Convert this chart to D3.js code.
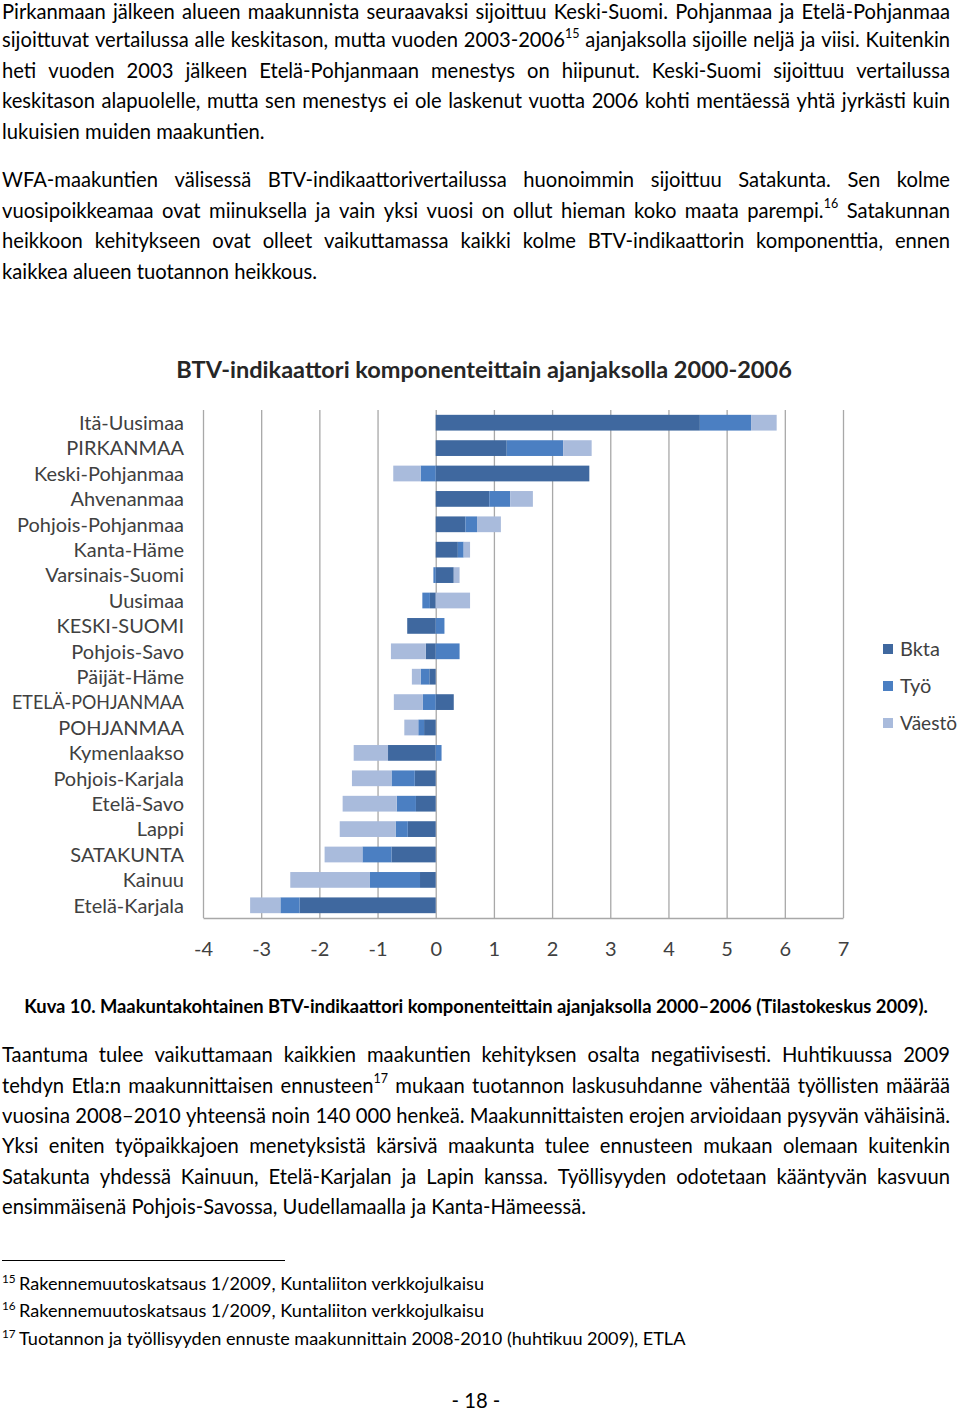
<!DOCTYPE html>
<html><head><meta charset="utf-8">
<script src="https://cdn.jsdelivr.net/npm/d3@7"></script>
<style>body{margin:0;background:#fff} svg{display:block}</style>
</head><body>
<svg id="page" width="960" height="1414"></svg>
<script>
// ---------- DATA ----------
const categories = ["Itä-Uusimaa","PIRKANMAA","Keski-Pohjanmaa","Ahvenanmaa","Pohjois-Pohjanmaa","Kanta-Häme","Varsinais-Suomi","Uusimaa","KESKI-SUOMI","Pohjois-Savo","Päijät-Häme","ETELÄ-POHJANMAA","POHJANMAA","Kymenlaakso","Pohjois-Karjala","Etelä-Savo","Lappi","SATAKUNTA","Kainuu","Etelä-Karjala"];
const bkta   = [4.54, 1.22, 2.64, 0.92, 0.51, 0.38, 0.31, -0.10, -0.49, -0.17, -0.11, 0.31, -0.20, -0.82, -0.36, -0.34, -0.48, -0.76, -0.27, -2.34];
const tyo    = [0.88, 0.97, -0.26, 0.36, 0.20, 0.10, -0.04, -0.13, 0.15, 0.41, -0.15, -0.22, -0.10, 0.10, -0.40, -0.33, -0.21, -0.50, -0.86, -0.33];
const vaesto = [0.44, 0.49, -0.47, 0.39, 0.41, 0.11, 0.10, 0.59, 0.00, -0.60, -0.15, -0.50, -0.24, -0.59, -0.68, -0.93, -0.96, -0.65, -1.37, -0.52];
const seriesNames = ["Bkta","Työ","Väestö"];
const xTicks = [-4,-3,-2,-1,0,1,2,3,4,5,6,7];
const chartTitle = "BTV-indikaattori komponenteittain ajanjaksolla 2000-2006";

const para1 = [
 "Pirkanmaan jälkeen alueen maakunnista seuraavaksi sijoittuu Keski-Suomi. Pohjanmaa ja Etelä-Pohjanmaa",
 "sijoittuvat vertailussa alle keskitason, mutta vuoden 2003-2006^15 ajanjaksolla sijoille neljä ja viisi. Kuitenkin",
 "heti vuoden 2003 jälkeen Etelä-Pohjanmaan menestys on hiipunut. Keski-Suomi sijoittuu vertailussa",
 "keskitason alapuolelle, mutta sen menestys ei ole laskenut vuotta 2006 kohti mentäessä yhtä jyrkästi kuin",
 "lukuisien muiden maakuntien."];
const para2 = [
 "WFA-maakuntien välisessä BTV-indikaattorivertailussa huonoimmin sijoittuu Satakunta. Sen kolme",
 "vuosipoikkeamaa ovat miinuksella ja vain yksi vuosi on ollut hieman koko maata parempi.^16 Satakunnan",
 "heikkoon kehitykseen ovat olleet vaikuttamassa kaikki kolme BTV-indikaattorin komponenttia, ennen",
 "kaikkea alueen tuotannon heikkous."];
const para3 = [
 "Taantuma tulee vaikuttamaan kaikkien maakuntien kehityksen osalta negatiivisesti. Huhtikuussa 2009",
 "tehdyn Etla:n maakunnittaisen ennusteen^17 mukaan tuotannon laskusuhdanne vähentää työllisten määrää",
 "vuosina 2008–2010 yhteensä noin 140 000 henkeä. Maakunnittaisten erojen arvioidaan pysyvän vähäisinä.",
 "Yksi eniten työpaikkajoen menetyksistä kärsivä maakunta tulee ennusteen mukaan olemaan kuitenkin",
 "Satakunta yhdessä Kainuun, Etelä-Karjalan ja Lapin kanssa. Työllisyyden odotetaan kääntyvän kasvuun",
 "ensimmäisenä Pohjois-Savossa, Uudellamaalla ja Kanta-Hämeessä."];
const caption = "Kuva 10. Maakuntakohtainen BTV-indikaattori komponenteittain ajanjaksolla 2000–2006 (Tilastokeskus 2009).";
const footNums = ["15","16","17"];
const footTexts = ["Rakennemuutoskatsaus 1/2009, Kuntaliiton verkkojulkaisu",
 "Rakennemuutoskatsaus 1/2009, Kuntaliiton verkkojulkaisu",
 "Tuotannon ja työllisyyden ennuste maakunnittain 2008-2010 (huhtikuu 2009), ETLA"];
const pageNo = "- 18 -";

// ---------- HELPERS ----------
const svg = d3.select("#page");
const FONT = "Lato, 'Open Sans', 'DejaVu Sans', sans-serif";
const colors = ["#3f689f", "#4b7fc2", "#a9bbdc"];

function fill(t, str) {
  const parts = str.split(/(\^\d+)/);
  let shifted = false;
  parts.forEach(p => {
    if (!p) return;
    if (p[0] === "^") {
      t.append("tspan").attr("font-size", "0.62em").attr("dy", "-0.75em").text(p.slice(1));
      shifted = true;
    } else {
      const ts = t.append("tspan").text(p);
      if (shifted) { ts.attr("dy", "0.46em"); shifted = false; }
    }
  });
}
function measure(str, size, weight) {
  const t = svg.append("text").attr("font-family", FONT).attr("font-size", size).attr("font-weight", weight || 400);
  fill(t, str);
  const w = t.node().getComputedTextLength();
  t.remove();
  return w;
}
function drawLine(str, x0, x1, y, size, justify, weight) {
  const words = str.split(" ");
  const g = svg.append("g").attr("font-family", FONT).attr("font-size", size)
    .attr("font-weight", weight || 400).attr("fill", "#000");
  const nodes = words.map(w => { const t = g.append("text").attr("y", y); fill(t, w); return t; });
  const ws = nodes.map(n => n.node().getComputedTextLength());
  const space = measure("a a", size, weight) - measure("aa", size, weight);
  const gap = justify && words.length > 1 ? (x1 - x0 - d3.sum(ws)) / (words.length - 1) : space;
  let x = x0;
  nodes.forEach((n, i) => { n.attr("x", x); x += ws[i] + gap; });
}
function fitSize(str, target, weight) {
  return 20 * target / measure(str, 20, weight);
}

// ---------- BODY TEXT ----------
let bodySize = fitSize(para3[5], 585);
const justLines = [].concat(para1.slice(0,4), para2.slice(0,3), para3.slice(0,5));
const maxW = d3.max(justLines, l => measure(l, bodySize));
if (maxW > 946) bodySize *= 946 / maxW;

function drawPara(lines, baselines) {
  lines.forEach((l, i) => drawLine(l, 2, 950, baselines[i], bodySize, i < lines.length - 1));
}
drawPara(para1, [19, 47, 77.5, 108, 138.5]);
drawPara(para2, [187, 217.5, 248, 278.5]);
drawPara(para3, [1062, 1092.5, 1123, 1153, 1184, 1214]);

// ---------- CHART ----------
const x = d3.scaleLinear().domain([-4, 7]).range([203, 843]);
const y = d3.scaleBand().domain(categories).range([410, 918]).paddingInner(0.38).paddingOuter(0.19);
const color = d3.scaleOrdinal().domain(seriesNames).range(colors);

const table = categories.map((c, i) => ({cat: c, "Bkta": bkta[i], "Työ": tyo[i], "Väestö": vaesto[i]}));
const stacked = d3.stack().keys(seriesNames).offset(d3.stackOffsetDiverging)(table);

const labelSize = fitSize("Pohjois-Pohjanmaa", 167);
const chartText = "#404040";

// gridlines + bottom line
const grid = svg.append("g").attr("transform", "translate(0,918)")
  .call(d3.axisBottom(x).tickValues(xTicks).tickSize(-508).tickSizeOuter(0).tickFormat(""));
grid.selectAll("line").attr("stroke", "#a8a8a8").attr("stroke-width", 1.3);
grid.select(".domain").attr("stroke", "#a8a8a8").attr("stroke-width", 1.3);

// bars
svg.append("g").selectAll("g").data(stacked).join("g")
  .attr("fill", d => color(d.key))
  .selectAll("rect").data(d => d).join("rect")
  .attr("x", d => x(Math.min(d[0], d[1])))
  .attr("width", d => Math.abs(x(d[1]) - x(d[0])))
  .attr("y", d => y(d.data.cat))
  .attr("height", y.bandwidth());

// x tick labels
const xl = svg.append("g").attr("transform", "translate(0,918)")
  .call(d3.axisBottom(x).tickValues(xTicks).tickSize(0).tickFormat(d => String(d)));
xl.select(".domain").remove();
xl.selectAll("text").attr("dy", null).attr("y", 38).attr("font-family", FONT)
  .attr("font-size", labelSize).attr("fill", chartText);

// category labels
const yl = svg.append("g").attr("transform", "translate(184,0)")
  .call(d3.axisLeft(y).tickSize(0).tickPadding(0));
yl.select(".domain").remove();
yl.selectAll("text").attr("font-family", FONT).attr("font-size", labelSize).attr("fill", chartText).attr("dy", "0.36em")
  .each(function() {
    const w = this.getComputedTextLength();
    if (w > 172) d3.select(this).attr("textLength", 172).attr("lengthAdjust", "spacingAndGlyphs");
  });

// title
const titleSize = fitSize(chartTitle, 616, 700);
svg.append("text").attr("x", 484).attr("y", 378).attr("text-anchor", "middle")
  .attr("font-family", FONT).attr("font-weight", 700).attr("font-size", titleSize)
  .attr("fill", "#262626").text(chartTitle);

// legend
const leg = svg.append("g").selectAll("g").data(seriesNames).join("g")
  .attr("transform", (d, i) => `translate(883,${649 + i * 37})`);
leg.append("rect").attr("x", 0).attr("y", -5).attr("width", 10).attr("height", 10).attr("fill", d => color(d));
leg.append("text").attr("x", 17).attr("dy", "0.36em").attr("font-family", FONT)
  .attr("font-size", labelSize).attr("fill", chartText).text(d => d)
  .each(function() {
    const w = this.getComputedTextLength();
    if (w > 57) d3.select(this).attr("textLength", 57).attr("lengthAdjust", "spacingAndGlyphs");
  });

// caption
const capSize = fitSize(caption, 904, 700);
svg.append("text").attr("x", 476).attr("y", 1013).attr("text-anchor", "middle")
  .attr("font-family", FONT).attr("font-weight", 700).attr("font-size", capSize).attr("fill", "#000").text(caption);

// footnotes
svg.append("line").attr("x1", 2).attr("x2", 285).attr("y1", 1260.5).attr("y2", 1260.5).attr("stroke", "#000").attr("stroke-width", 1);
const footSize = fitSize(footTexts[2], 667);
[1290, 1317, 1345].forEach((yy, i) => {
  svg.append("text").attr("x", 2).attr("y", yy - 7).attr("font-family", FONT).attr("font-size", footSize * 0.65).text(footNums[i]);
  svg.append("text").attr("x", 19).attr("y", yy).attr("font-family", FONT).attr("font-size", footSize).text(footTexts[i]);
});

// page number
svg.append("text").attr("x", 476).attr("y", 1408).attr("text-anchor", "middle")
  .attr("font-family", FONT).attr("font-size", bodySize).text(pageNo);
</script>
</body></html>
